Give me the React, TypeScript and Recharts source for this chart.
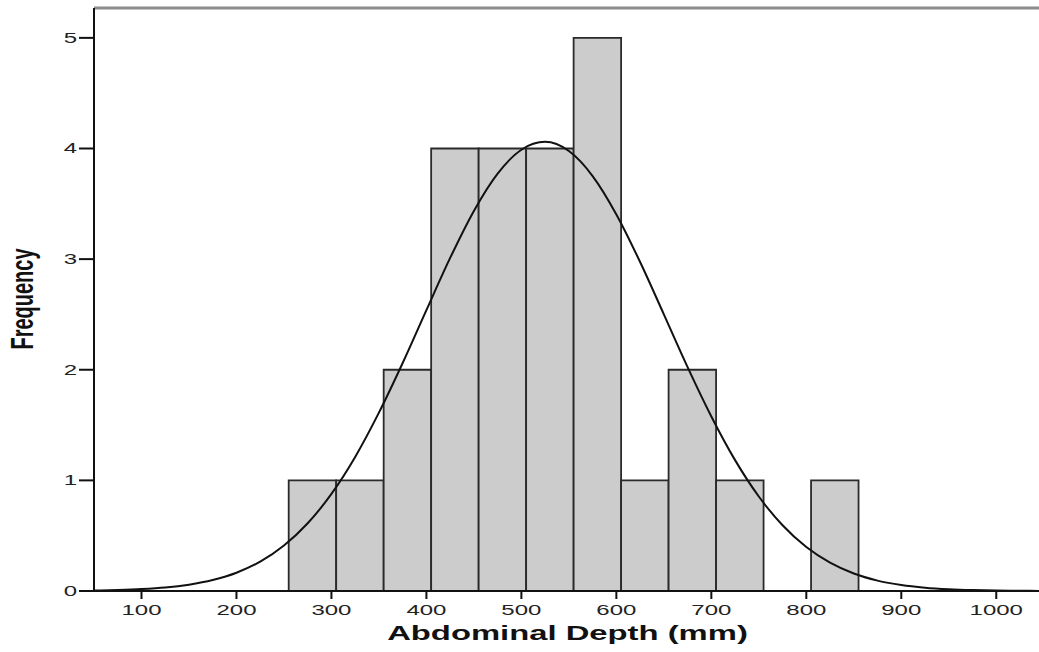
import React from 'react';
import { ComposedChart, Line, XAxis, YAxis, ReferenceArea, ReferenceLine } from 'recharts';

// Histogram bins (lower edge, upper edge) and frequencies
const binStarts = [255, 305, 355, 405, 455, 505, 555, 605, 655, 705, 755, 805];
const binEnds = [305, 355, 405, 455, 505, 555, 605, 655, 705, 755, 805, 855];
const counts = [1, 1, 2, 4, 4, 4, 5, 1, 2, 1, 0, 1];

// Fitted normal curve
const curveX = [50, 75, 100, 125, 150, 175, 200, 225, 250, 275, 300, 325, 350, 375, 400, 425, 450, 475, 500, 525, 550, 575, 600, 625, 650, 675, 700, 725, 750, 775, 800, 825, 850, 875, 900, 925, 950, 975, 1000, 1025, 1045];
const curveY = [0.004, 0.009, 0.017, 0.031, 0.057, 0.099, 0.165, 0.265, 0.411, 0.612, 0.878, 1.212, 1.612, 2.061, 2.539, 3.011, 3.436, 3.773, 3.989, 4.06, 3.977, 3.751, 3.404, 2.974, 2.501, 2.024, 1.578, 1.183, 0.854, 0.594, 0.397, 0.256, 0.158, 0.094, 0.054, 0.03, 0.016, 0.008, 0.004, 0.002, 0.001];

const xTicks = [100, 200, 300, 400, 500, 600, 700, 800, 900, 1000];
const yTicks = [0, 1, 2, 3, 4, 5];

const xTitle = 'Abdominal Depth (mm)';
const yTitle = 'Frequency';

const X_DOMAIN: [number, number] = [50, 1045];
const Y_MAX = 5.27;
const STRETCH = 1.6;
const FONT = '"Liberation Sans", Arial, sans-serif';

const curveData = curveX.map((x, i) => ({ x, f: curveY[i] }));
const bins = binStarts.map((lo, i) => ({ lo, hi: binEnds[i], n: counts[i] })).filter((b) => b.n > 0);

const XTick = (props: any) => {
  const { x, y, payload } = props;
  return (
    <g transform={`translate(${x},${y})`}>
      <text transform={`scale(${STRETCH},1)`} x={0} y={14} textAnchor="middle" fontFamily={FONT} fontSize={15} fill="#222">
        {payload.value}
      </text>
    </g>
  );
};

const YTick = (props: any) => {
  const { x, y, payload } = props;
  return (
    <g transform={`translate(${x},${y})`}>
      <text transform={`scale(${STRETCH},1)`} x={0} y={5} textAnchor="end" fontFamily={FONT} fontSize={15} fill="#222">
        {payload.value}
      </text>
    </g>
  );
};

const XTitle = (props: any) => {
  const vb = props.viewBox || { x: 94, y: 591, width: 945, height: 61 };
  const cx = vb.x + vb.width / 2 + 1;
  const cy = vb.y + 49;
  return (
    <g transform={`translate(${cx},${cy})`}>
      <text transform={`scale(${STRETCH},1)`} x={0} y={0} textAnchor="middle" fontFamily={FONT} fontWeight="bold" fontSize={20.5} fill="#111">
        {xTitle}
      </text>
    </g>
  );
};

const YTitle = () => (
  <g transform="translate(33,299) rotate(-90)">
    <text transform={`scale(1,${STRETCH})`} x={0} y={0} textAnchor="middle" fontFamily={FONT} fontWeight="bold" fontSize={20} fill="#111">
      {yTitle}
    </text>
  </g>
);

export default function App() {
  return (
    <div style={{ position: 'absolute', left: 0, top: 0, width: 1039, height: 652, background: '#fff' }}>
      <ComposedChart width={1039} height={652} data={curveData} margin={{ top: 8, right: 0, bottom: 0, left: 0 }}>
        <XAxis
          dataKey="x"
          type="number"
          domain={X_DOMAIN}
          ticks={xTicks}
          allowDataOverflow
          height={61}
          tickSize={8}
          axisLine={{ stroke: '#111', strokeWidth: 2 }}
          tickLine={{ stroke: '#111', strokeWidth: 2 }}
          tick={<XTick />}
          label={<XTitle />}
        />
        <YAxis
          type="number"
          domain={[0, Y_MAX]}
          ticks={yTicks}
          allowDataOverflow
          width={94}
          tickSize={15}
          axisLine={{ stroke: '#111', strokeWidth: 2 }}
          tickLine={{ stroke: '#111', strokeWidth: 2 }}
          tick={<YTick />}
          label={<YTitle />}
        />
        {bins.map((b) => (
          <ReferenceArea
            key={b.lo}
            x1={b.lo}
            x2={b.hi}
            y1={0}
            y2={b.n}
            fill="#cccccc"
            fillOpacity={1}
            stroke="#2a2a2a"
            strokeWidth={1.8}
            ifOverflow="visible"
          />
        ))}
        <ReferenceLine y={Y_MAX} stroke="#8c8c8c" strokeWidth={3} ifOverflow="visible" />
        <Line
          type="monotone"
          dataKey="f"
          stroke="#111"
          strokeWidth={2}
          dot={false}
          activeDot={false}
          isAnimationActive={false}
        />
      </ComposedChart>
    </div>
  );
}
